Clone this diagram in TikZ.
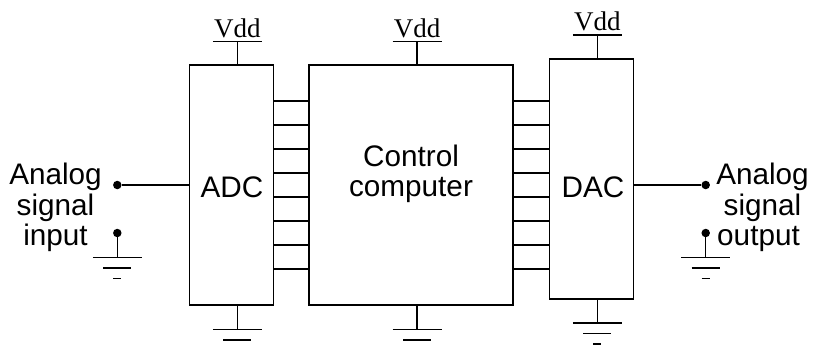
\documentclass[tikz,border=0pt]{standalone}
\usepackage{fontspec}
\setmainfont{Liberation Sans}
\newfontfamily\vddfont{Liberation Serif}
\begin{document}
\begin{tikzpicture}[x=1pt, y=-1pt,
  wire/.style={draw=black, line width=1.4pt},
  block/.style={rectangle, draw=black, line width=1.4pt, inner sep=0pt},
  dot/.style={circle, fill=black, minimum size=8.5pt, inner sep=0pt},
  txt/.style={font=\fontsize{29.7}{30.5}\selectfont, align=center, inner sep=0pt},
  vdd/.style={font=\vddfont\fontsize{27}{27}\selectfont, anchor=base, inner sep=0pt}]
\useasboundingbox (0,0) rectangle (813,349);
\node[block, minimum width=84pt, minimum height=240pt] (adc) at (231.5,185) {};
\node[block, minimum width=204pt, minimum height=240pt] (comp) at (411,185) {};
\node[block, minimum width=84pt, minimum height=240pt] (dac) at (591.5,179) {};
\node[txt] (adctxt) at (232,187.5) {ADC};
\node[txt] (comptxt) at (411,174) {Control\\computer};
\node[txt] (dactxt) at (593,187.5) {DAC};
\node[txt] (intxt) at (55.5,207.5) {Analog\\signal\\input};
\node[txt] (outtxt) at (762.5,207.5) {Analog\\signal\\output\hspace*{8pt}};
\node[dot] (in) at (117.3,185) {};
\node[dot] (ingnd) at (117.3,233) {};
\node[dot] (out) at (705.7,185) {};
\node[dot] (outgnd) at (705.7,233) {};
\draw[wire] (in) -- (adc.west);
\draw[wire] (dac.east |- out) -- (out);
% data lines
\foreach \i in {0,...,7}{
  \draw[wire] (adc.east |- 0,101+24*\i) -- (comp.west |- 0,101+24*\i);
  \draw[wire] (comp.east |- 0,101+24*\i) -- (dac.west |- 0,101+24*\i);
}
% supply
\foreach \nm/\x/\y in {adc/237.3/41.5, comp/417/41.5, dac/597.3/35}{
  \coordinate (v\nm) at (\x,\y);
  \draw[wire] (v\nm) -- (v\nm |- \nm.north);
  \draw[wire] ([xshift=-24.5pt]v\nm) -- ([xshift=24.5pt]v\nm);
  \node[vdd] (t\nm) at (\x,\y-4.5) {Vdd};
}
% ground
\foreach \nm/\x/\y in {adc/237.3/329.5, comp/417/329.5, dac/597.3/323}{
  \coordinate (g\nm) at (\x,\y);
  \draw[wire] (g\nm |- \nm.south) -- (g\nm);
}
\coordinate (gin) at (117.3,257.5);
\coordinate (gout) at (705.7,257.5);
\draw[wire] (ingnd) -- (gin);
\draw[wire] (outgnd) -- (gout);
\foreach \nm in {gadc,gcomp,gdac,gin,gout}{
  \draw[wire] ([xshift=-24.5pt]\nm) -- ([xshift=24.5pt]\nm);
  \draw[wire] ([xshift=-14pt,yshift=-10.5pt]\nm) -- ([xshift=14pt,yshift=-10.5pt]\nm);
}
\foreach \nm in {gdac,gin,gout}{
  \draw[wire] ([xshift=-4pt,yshift=-21pt]\nm) -- ([xshift=4pt,yshift=-21pt]\nm);
}
\end{tikzpicture}
\end{document}
